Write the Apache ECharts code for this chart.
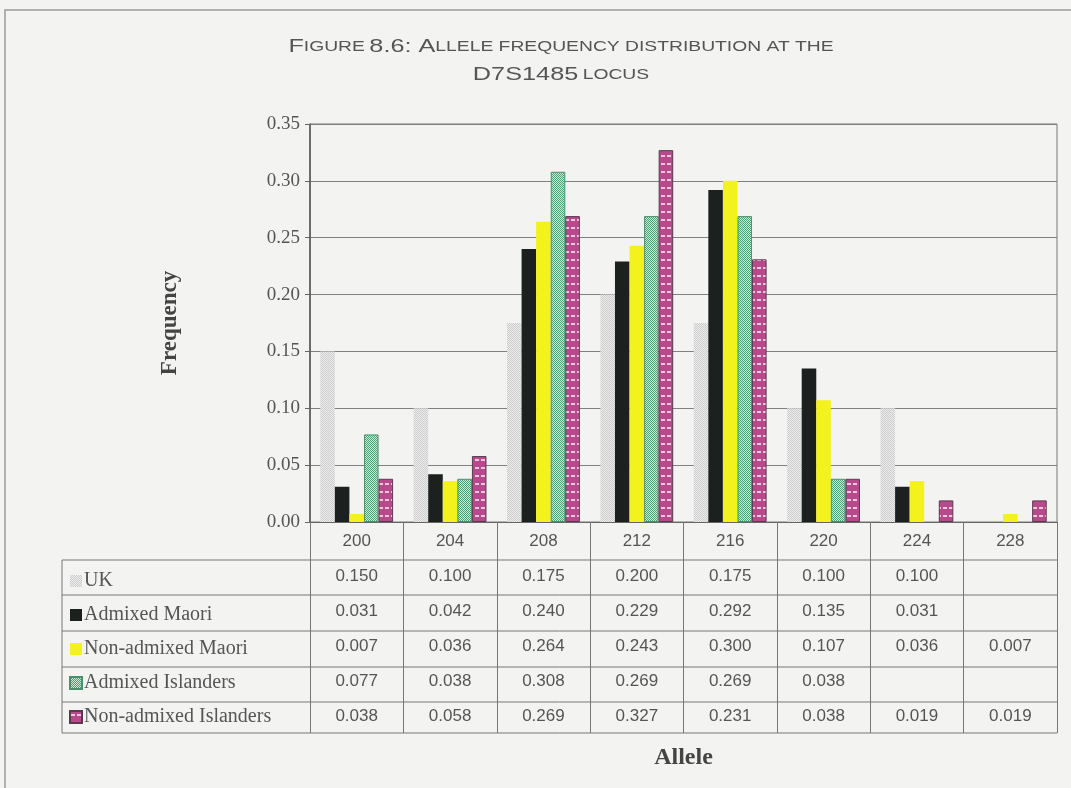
<!DOCTYPE html>
<html>
<head>
<meta charset="utf-8">
<script src="https://cdn.jsdelivr.net/npm/echarts@6/dist/echarts.min.js"></script>
<style>
  html, body { margin: 0; padding: 0; background: #f3f4f2; }
  #chart { width: 1071px; height: 788px; }
</style>
</head>
<body>
<div id="chart"></div>
<script>
// Alleles at the D7S1485 locus
const alleles = ['200', '204', '208', '212', '216', '220', '224', '228'];
const seriesNames = ['UK', 'Admixed Maori', 'Non-admixed Maori', 'Admixed Islanders', 'Non-admixed Islanders'];
// Allele frequencies per population (null = allele not observed)
const ukFreq = [0.150, 0.100, 0.175, 0.200, 0.175, 0.100, 0.100, null];
const admixedMaoriFreq = [0.031, 0.042, 0.240, 0.229, 0.292, 0.135, 0.031, null];
const nonAdmixedMaoriFreq = [0.007, 0.036, 0.264, 0.243, 0.300, 0.107, 0.036, 0.007];
const admixedIslandersFreq = [0.077, 0.038, 0.308, 0.269, 0.269, 0.038, null, null];
const nonAdmixedIslandersFreq = [0.038, 0.058, 0.269, 0.327, 0.231, 0.038, 0.019, 0.019];
const yTicks = [0, 0.05, 0.10, 0.15, 0.20, 0.25, 0.30, 0.35];

const allSeries = [ukFreq, admixedMaoriFreq, nonAdmixedMaoriFreq, admixedIslandersFreq, nonAdmixedIslandersFreq];

// Layout of the plot and the data table under it
const W = 1071, H = 788;
const gridLeft = 310, gridRight = 1057, gridTop = 124, gridBottom = 522;
const tableLeft = 62;
const rowLines = [560, 595, 631, 667, 702, 733];
const rowH = 35;

// Small fill patterns for the hatched bars
function pattern(w, h, draw) {
  const c = document.createElement('canvas');
  c.width = w; c.height = h;
  draw(c.getContext('2d'));
  return { image: c, repeat: 'repeat' };
}
const ukFill = pattern(2, 2, g => {
  g.fillStyle = '#ececec'; g.fillRect(0, 0, 2, 2);
  g.fillStyle = '#cdcdcd'; g.fillRect(0, 0, 1, 1); g.fillRect(1, 1, 1, 1);
});
const greenFill = pattern(2, 2, g => {
  g.fillStyle = '#cde8d6'; g.fillRect(0, 0, 2, 2);
  g.fillStyle = '#4f9e74'; g.fillRect(0, 0, 1, 1); g.fillRect(1, 1, 1, 1);
});
const magentaFill = pattern(6, 8, g => {
  g.fillStyle = '#b84a8c'; g.fillRect(0, 0, 6, 8);
  g.fillStyle = '#efc8df'; g.fillRect(1, 3, 4, 2);
});

const styles = [
  { color: ukFill, borderWidth: 0 },
  { color: '#1c211f', borderWidth: 0 },
  { color: '#f4f21c', borderWidth: 0 },
  { color: greenFill, borderColor: '#4c8f6c', borderWidth: 1 },
  { color: magentaFill, borderColor: '#5a3a50', borderWidth: 1 }
];

function fmt(v) { return v == null ? ' ' : v.toFixed(3); }

const chart = echarts.init(document.getElementById('chart'), null, { renderer: 'canvas' });

const titleX = 561;
const graphics = [
  // outer frame
  { type: 'rect', shape: { x: 5, y: 10, width: 1080, height: 800 }, style: { fill: 'none', stroke: '#9a9a9a', lineWidth: 1.5 }, silent: true },
  // title in small capitals, set wide
  {
    type: 'text', x: titleX, y: 33, scaleX: 1.33, originX: 0,
    style: {
      text: '{a|F}{b|IGURE} {a|8.6: A}{b|LLELE FREQUENCY DISTRIBUTION AT THE}\n{a|D7S1485} {b|LOCUS}',
      align: 'center', verticalAlign: 'top', fill: '#555',
      rich: {
        a: { fontFamily: 'Liberation Sans', fontSize: 19, fill: '#555', lineHeight: 28 },
        b: { fontFamily: 'Liberation Sans', fontSize: 14.5, fill: '#555', lineHeight: 28 }
      }
    }
  },
  // table: left edge of the legend column
  { type: 'line', shape: { x1: tableLeft, y1: rowLines[0], x2: tableLeft, y2: rowLines[rowLines.length - 1] }, style: { stroke: '#777', lineWidth: 1 }, silent: true }
];
rowLines.forEach(y => {
  graphics.push({ type: 'line', shape: { x1: tableLeft, y1: y, x2: gridRight, y2: y }, style: { stroke: '#777', lineWidth: 1 }, silent: true });
});

chart.setOption({
  backgroundColor: '#f3f4f2',
  animation: false,
  grid: {
    left: gridLeft, right: W - gridRight, top: gridTop, bottom: H - gridBottom,
    show: true, borderColor: '#777', borderWidth: 1, backgroundColor: 'transparent'
  },
  legend: {
    orient: 'vertical', left: 64, top: 566,
    itemWidth: 12, itemHeight: 12, itemGap: 14,
    icon: 'rect',
    data: seriesNames,
    textStyle: { fontFamily: 'Liberation Serif', fontSize: 20, color: '#555', padding: [0, 0, 0, -3] }
  },
  xAxis: {
    type: 'category',
    data: alleles,
    name: 'Allele',
    nameLocation: 'middle',
    nameGap: 224,
    nameTextStyle: { fontFamily: 'Liberation Serif', fontSize: 24, fontWeight: 'bold', color: '#444' },
    axisLine: { show: true, lineStyle: { color: '#666', width: 1 } },
    axisTick: { show: true, length: rowLines[rowLines.length - 1] - gridBottom, lineStyle: { color: '#777', width: 1 } },
    axisLabel: {
      margin: 2,
      fontFamily: 'Liberation Sans', fontSize: 17, color: '#555', lineHeight: rowH,
      formatter: (val, idx) => [val].concat(allSeries.map(s => fmt(s[idx]))).join('\n')
    }
  },
  yAxis: {
    type: 'value',
    min: yTicks[0], max: yTicks[yTicks.length - 1], interval: 0.05,
    name: 'Frequency',
    nameLocation: 'middle',
    nameRotate: 90,
    nameGap: 128,
    nameTextStyle: { fontFamily: 'Liberation Serif', fontSize: 23, fontWeight: 'bold', color: '#444' },
    axisLine: { show: true, lineStyle: { color: '#555', width: 1.5 } },
    axisTick: { show: true, length: 5, lineStyle: { color: '#666' } },
    axisLabel: {
      fontFamily: 'Liberation Serif', fontSize: 19, color: '#555', margin: 10,
      formatter: v => v.toFixed(2)
    },
    splitLine: { show: true, lineStyle: { color: '#808080', width: 1.2 } }
  },
  series: seriesNames.map((name, i) => ({
    name: name,
    type: 'bar',
    data: allSeries[i],
    barGap: '0%',
    barCategoryGap: '22%',
    itemStyle: styles[i]
  })),
  graphic: graphics
});
</script>
</body>
</html>
